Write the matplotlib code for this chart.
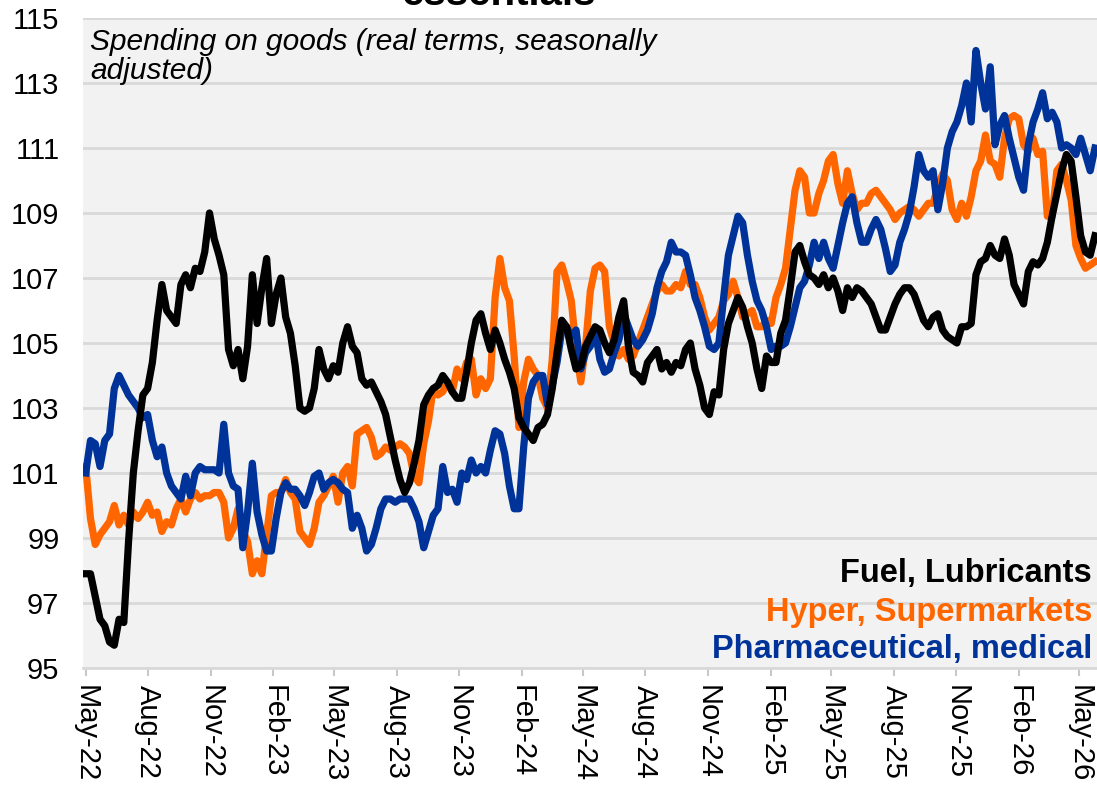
import matplotlib
matplotlib.use("Agg")
import matplotlib.pyplot as plt
import pandas as pd

# Weekly readings starting 1 May 2022
fuel = [
    97.9, 97.9, 97.2, 96.5, 96.3, 95.8, 95.7, 96.5, 96.4, 98.9,
    101.0, 102.3, 103.4, 103.6, 104.4, 105.7, 106.8, 106.0, 105.8, 105.6,
    106.8, 107.1, 106.7, 107.3, 107.2, 107.8, 109.0, 108.2, 107.7, 107.1,
    104.8, 104.3, 104.8, 103.9, 104.9, 107.1, 105.6, 106.7, 107.6, 105.6,
    106.5, 107.0, 105.8, 105.3, 104.3, 103.0, 102.9, 103.0, 103.6, 104.8,
    104.2, 103.9, 104.3, 104.1, 105.0, 105.5, 104.9, 104.7, 103.9, 103.7,
    103.8, 103.5, 103.2, 102.8, 102.1, 101.4, 100.8, 100.4, 100.7, 101.3,
    102.0, 103.1, 103.4, 103.6, 103.7, 104.0, 103.8, 103.5, 103.3, 103.3,
    104.1, 105.0, 105.7, 105.9, 105.3, 104.8, 105.4, 105.0, 104.5, 104.1,
    103.6, 102.7, 102.4, 102.2, 102.0, 102.4, 102.5, 102.8, 103.6, 104.7,
    105.7, 105.5, 104.8, 104.2, 104.3, 104.9, 105.2, 105.5, 105.4, 105.0,
    104.7, 105.1, 105.8, 106.3, 104.9, 104.1, 104.0, 103.8, 104.4, 104.6,
    104.8, 104.2, 104.4, 104.1, 104.4, 104.3, 104.8, 105.0, 104.2, 103.7,
    103.0, 102.8, 103.5, 103.4, 104.8, 105.6, 106.0, 106.4, 106.1, 105.5,
    105.0, 104.2, 103.6, 104.6, 104.4, 104.4, 105.3, 105.7, 106.7, 107.8,
    108.0, 107.5, 107.1, 107.0, 106.8, 107.1, 106.7, 107.0, 106.6, 106.0,
    106.7, 106.4, 106.7, 106.6, 106.4, 106.2, 105.8, 105.4, 105.4, 105.8,
    106.2, 106.5, 106.7, 106.7, 106.5, 106.1, 105.7, 105.5, 105.8, 105.9,
    105.4, 105.2, 105.1, 105.0, 105.5, 105.5, 105.6, 107.1, 107.5, 107.6,
    108.0, 107.7, 107.6, 108.2, 107.7, 106.8, 106.5, 106.2, 107.2, 107.5,
    107.4, 107.6, 108.1, 108.9, 109.6, 110.3, 110.8, 110.6, 109.5, 108.3,
    107.8, 107.7, 108.3,
]

hyper = [
    101.2, 99.6, 98.8, 99.1, 99.3, 99.5, 100.0, 99.4, 99.7, 99.4,
    99.8, 99.6, 99.8, 100.1, 99.7, 99.8, 99.2, 99.5, 99.4, 99.9,
    100.2, 99.8, 100.2, 100.4, 100.2, 100.3, 100.3, 100.4, 100.4, 100.1,
    99.0, 99.3, 99.9, 99.2, 98.9, 97.9, 98.3, 97.9, 99.1, 100.3,
    100.4, 100.4, 100.8, 100.4, 100.2, 99.2, 99.0, 98.8, 99.3, 100.1,
    100.3, 100.6, 100.9, 100.1, 101.0, 101.2, 100.6, 102.2, 102.3, 102.4,
    102.1, 101.5, 101.6, 101.8, 101.7, 101.8, 101.9, 101.8, 101.6, 100.9,
    100.7, 101.9, 102.6, 103.6, 103.4, 103.5, 103.8, 103.5, 104.2, 103.9,
    104.4, 104.5, 103.4, 103.9, 103.6, 103.9, 106.4, 107.6, 106.7, 106.3,
    104.6, 102.4, 103.8, 104.5, 104.2, 104.0, 103.3, 103.0, 104.5, 107.2,
    107.4, 106.9, 106.3, 104.8, 103.8, 104.9, 106.6, 107.3, 107.4, 107.2,
    105.5, 105.0, 104.6, 104.8, 104.5, 104.6, 105.0, 105.4, 105.8, 106.2,
    106.6, 106.8, 106.6, 106.6, 106.8, 106.7, 107.2, 106.8, 106.8, 106.4,
    105.8, 105.4, 105.6, 105.8, 106.3, 106.5, 106.9, 106.4, 105.8, 105.9,
    106.0, 105.5, 105.5, 105.7, 105.6, 106.4, 106.8, 107.3, 108.5, 109.7,
    110.3, 110.1, 109.0, 109.0, 109.6, 110.0, 110.6, 110.8, 109.9, 109.3,
    110.3, 109.6, 109.1, 109.3, 109.3, 109.6, 109.7, 109.5, 109.3, 109.1,
    108.8, 109.0, 109.1, 109.2, 109.1, 108.9, 109.1, 109.3, 109.3, 109.8,
    110.2, 110.0, 109.1, 108.8, 109.3, 108.9, 109.5, 110.3, 110.6, 111.4,
    110.6, 110.5, 110.1, 111.3, 111.9, 112.0, 111.9, 111.1, 110.9, 111.3,
    110.8, 110.9, 108.9, 108.9, 110.3, 110.5, 110.0, 109.4, 108.0, 107.6,
    107.3, 107.4, 107.5,
]

pharma = [
    101.0, 102.0, 101.9, 101.2, 102.0, 102.2, 103.6, 104.0, 103.7, 103.4,
    103.2, 103.0, 102.7, 102.8, 102.0, 101.5, 101.8, 101.0, 100.6, 100.4,
    100.2, 100.9, 100.3, 101.0, 101.2, 101.1, 101.1, 101.1, 101.0, 102.5,
    101.0, 100.6, 100.5, 98.7, 99.8, 101.3, 99.8, 99.1, 98.6, 98.6,
    99.6, 100.4, 100.7, 100.5, 100.5, 100.3, 100.0, 100.4, 100.9, 101.0,
    100.5, 100.7, 100.8, 100.7, 100.5, 100.4, 99.3, 99.7, 99.3, 98.6,
    98.8, 99.3, 99.9, 100.2, 100.2, 100.1, 100.2, 100.2, 100.2, 99.9,
    99.5, 98.7, 99.2, 99.7, 99.9, 101.2, 100.4, 100.5, 100.1, 101.0,
    100.8, 101.4, 101.0, 101.2, 101.0, 101.7, 102.3, 102.2, 101.6, 100.6,
    99.9, 99.9, 101.8, 103.3, 103.8, 104.0, 104.0, 103.1, 103.7, 104.4,
    105.4, 105.5, 105.2, 105.4, 104.2, 104.7, 104.9, 105.4, 104.5, 104.1,
    104.2, 104.7, 105.1, 105.9, 105.5, 105.1, 104.9, 105.1, 105.4, 105.9,
    106.7, 107.2, 107.5, 108.1, 107.8, 107.8, 107.7, 107.1, 106.4, 106.0,
    105.5, 104.9, 104.8, 105.0, 106.4, 107.7, 108.3, 108.9, 108.7, 107.7,
    106.9, 106.3, 106.0, 105.5, 104.8, 104.9, 104.9, 105.0, 105.5, 106.1,
    106.7, 106.9, 107.4, 108.1, 107.6, 108.1, 107.6, 107.3, 108.0, 108.7,
    109.3, 109.5, 108.7, 108.1, 108.1, 108.5, 108.8, 108.5, 107.9, 107.2,
    107.4, 108.1, 108.5, 109.0, 109.8, 110.8, 110.3, 110.1, 110.3, 109.1,
    109.9, 111.0, 111.5, 111.8, 112.3, 113.0, 111.8, 114.0, 113.0, 112.2,
    113.5, 111.1, 111.7, 112.0, 111.3, 110.7, 110.1, 109.7, 111.1, 111.8,
    112.2, 112.7, 111.9, 112.1, 111.8, 111.0, 111.1, 111.0, 110.8, 111.3,
    110.8, 110.3, 111.0,
]

series_names = ["Fuel, Lubricants", "Hyper, Supermarkets", "Pharmaceutical, medical"]
series_colors = ["#000000", "#ff6600", "#003399"]

plt.rcParams["font.family"] = ["Liberation Sans", "DejaVu Sans"]

dates = pd.date_range("2022-05-01", periods=len(fuel), freq="7D")

fig = plt.figure(figsize=(10.97, 7.89), dpi=100)
ax = fig.add_axes([83 / 1097, 1 - 668 / 789, 1014 / 1097, 650 / 789])
ax.set_facecolor("#f2f2f2")

ax.plot(dates, hyper, color=series_colors[1], lw=5.2, solid_joinstyle="round", zorder=3)
ax.plot(dates, pharma, color=series_colors[2], lw=5.2, solid_joinstyle="round", zorder=4)
ax.plot(dates, fuel, color=series_colors[0], lw=5.2, solid_joinstyle="round", zorder=5)

ax.set_ylim(95, 115)
ax.set_yticks(range(95, 116, 2))
ax.grid(axis="y", color="#d9d9d9", lw=2)
ax.set_axisbelow(True)
for s in ["left", "right", "top"]:
    ax.spines[s].set_visible(False)
ax.spines["bottom"].set_color("#d9d9d9")
ax.spines["bottom"].set_linewidth(2)

ticks = pd.date_range("2022-05-01", "2026-05-01", freq="3MS")
ax.set_xticks(ticks)
ax.set_xticklabels([d.strftime("%b-%y") for d in ticks])
ax.set_xlim(pd.Timestamp("2022-04-27"), pd.Timestamp("2026-05-27"))
ax.tick_params(axis="x", direction="out", length=6, width=1.5, color="#c8c8c8",
               labelsize=21, pad=6)
plt.setp(ax.get_xticklabels(), rotation=270, ha="center", va="top")
ax.tick_params(axis="y", length=0, labelsize=21, pad=17)

ax.text(0.007, 0.985, "Spending on goods (real terms, seasonally\nadjusted)",
        transform=ax.transAxes, ha="left", va="top", fontsize=21.5,
        style="italic", linespacing=1.05, zorder=6)

ypos = [0.145, 0.086, 0.029]
for name, col, yp in zip(series_names, series_colors, ypos):
    ax.text(0.995, yp, name, transform=ax.transAxes, ha="right", va="center",
            fontsize=23.5, fontweight="bold", color=col, zorder=6)

fig.text(0.4545, 1 - 5 / 789, "essentials", ha="center", va="baseline",
         fontsize=29, fontweight="bold")

fig.savefig("out.png", dpi=100)
